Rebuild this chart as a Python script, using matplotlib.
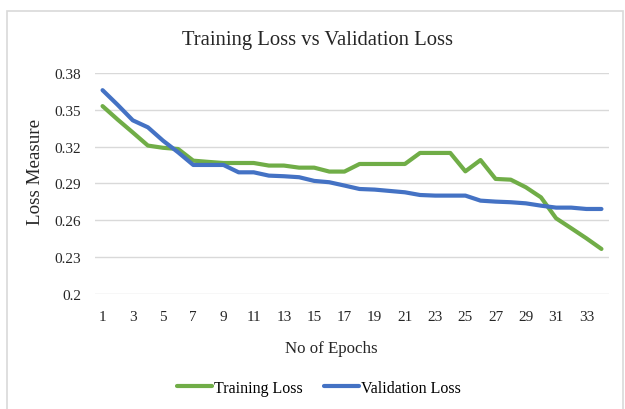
import matplotlib
matplotlib.use("Agg")
import matplotlib.pyplot as plt
from matplotlib.patches import Rectangle

epochs = list(range(1, 35))
training_loss = [0.353, 0.342, 0.3315, 0.3208, 0.319, 0.318, 0.3085, 0.3075, 0.3066, 0.3066,
                 0.3066, 0.3045, 0.3045, 0.3028, 0.3028, 0.2996, 0.2996, 0.3058, 0.3058, 0.3058,
                 0.3058, 0.3148, 0.3148, 0.3148, 0.2998, 0.309, 0.2936, 0.293, 0.2868, 0.2786,
                 0.2615, 0.2534, 0.2452, 0.2365]
validation_loss = [0.366, 0.354, 0.3414, 0.3357, 0.3248, 0.3153, 0.305, 0.305, 0.305, 0.299,
                   0.299, 0.2963, 0.2958, 0.295, 0.292, 0.2909, 0.2882, 0.2854, 0.2849, 0.2838,
                   0.2827, 0.2805, 0.28, 0.28, 0.28, 0.2759, 0.2751, 0.2746, 0.2737, 0.2718,
                   0.2702, 0.2702, 0.2691, 0.2691]
y_ticks = [0.2, 0.23, 0.26, 0.29, 0.32, 0.35, 0.38]
y_tick_labels = ["0.2", "0.23", "0.26", "0.29", "0.32", "0.35", "0.38"]
x_tick_labels = [str(e) for e in epochs[::2]]

plt.rcParams['font.family'] = ['Liberation Serif', 'DejaVu Serif']

fig = plt.figure(figsize=(6.25, 4.10), dpi=100)
W, H = 625, 410
left, right, top, bottom = 95, 609, 74, 294.7
ax = fig.add_axes([left / W, 1 - bottom / H, (right - left) / W, (bottom - top) / H])

ax.plot(epochs, training_loss, color='#70AD47', lw=3, label='Training Loss', solid_capstyle='round', solid_joinstyle='round')
ax.plot(epochs, validation_loss, color='#4472C4', lw=3, label='Validation Loss', solid_capstyle='round', solid_joinstyle='round')

ax.set_xlim(0.5, 34.5)
ax.set_ylim(0.2, 0.38)
ax.set_yticks(y_ticks)
ax.set_yticklabels(y_tick_labels)
ax.set_xticks(epochs[::2])
ax.set_xticklabels(x_tick_labels)
ax.tick_params(axis='both', length=0, labelsize=11, colors='#262626')
ax.tick_params(axis='x', pad=12)
ax.tick_params(axis='y', pad=10)
ax.grid(axis='y', color='#D9D9D9', lw=1)
ax.set_axisbelow(True)
for s in ax.spines.values():
    s.set_visible(False)

fig.text(317 / W, 1 - 40 / H, 'Training Loss vs Validation Loss', ha='center', va='center', fontsize=14.9, color='#262626')
fig.text(36 / W, 1 - 172 / H, 'Loss Measure', ha='center', va='center', rotation=90, fontsize=13.7, color='#262626')
fig.text(331 / W, 1 - 349 / H, 'No of Epochs', ha='center', va='center', fontsize=12.2, color='#262626')

fig.legend(loc='center', bbox_to_anchor=(319 / W, 1 - 389 / H), ncol=2, frameon=False,
           fontsize=11.5, handlelength=2.2, handletextpad=0.15, columnspacing=1.3)

fig.patches.append(Rectangle((7 / W, -0.05), (623 - 7) / W, (H - 12) / H + 0.05, transform=fig.transFigure,
                             fill=False, edgecolor='#D9D9D9', lw=1.2, clip_on=False))

fig.savefig('out.png', dpi=100, facecolor='white')
